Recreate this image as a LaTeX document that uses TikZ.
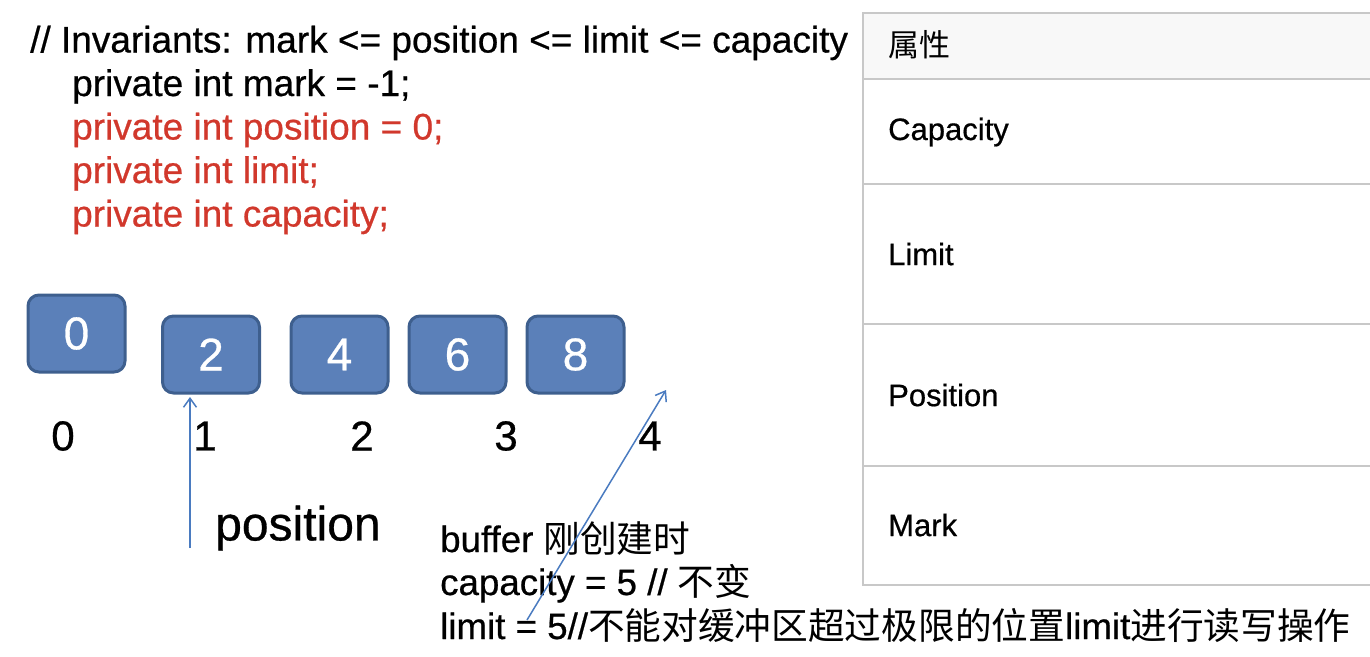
\documentclass[tikz,border=0pt]{standalone}
\usepackage{fontspec}
\setmainfont{Liberation Sans}[RawFeature={embolden=0.6}]
\newfontfamily\cjk{Noto Sans CJK SC}
\usetikzlibrary{arrows.meta}
\definecolor{boxfill}{RGB}{91,128,185}
\definecolor{boxedge}{RGB}{62,95,142}
\definecolor{codered}{RGB}{209,56,44}
\definecolor{arrowblue}{RGB}{74,123,192}
\definecolor{tablegray}{RGB}{200,200,200}
\definecolor{headfill}{RGB}{248,248,248}
\tikzset{
  codeline/.style={anchor=base west, inner sep=0pt, font=\fontsize{37}{43}\selectfont},
  redline/.style={codeline, text=codered},
  valbox/.style={draw=boxedge, fill=boxfill, line width=3pt, rounded corners=11pt,
    minimum width=97pt, minimum height=77pt, inner sep=0pt, text=white,
    font=\fontsize{46}{46}\selectfont},
  idx/.style={inner sep=0pt, font=\fontsize{42}{42}\selectfont},
  pointer/.style={draw=arrowblue, line width=1.5pt, -{Straight Barb[length=9pt,width=13pt]}},
  note/.style={anchor=base west, inner sep=0pt, font=\fontsize{36.7}{43}\selectfont},
  cell/.style={draw=tablegray, line width=2pt, anchor=north west, minimum width=512pt, inner sep=0pt},
  celltext/.style={anchor=west, inner sep=0pt, font=\fontsize{31}{31}\selectfont}
}
\begin{document}
\begin{tikzpicture}[x=1pt,y=-1pt]
\useasboundingbox (0,0) rectangle (1370,656);
% code
\node[codeline] (c0) at (30,52.5) {// Invariants: mark <= position <= limit <= capacity};
\node[codeline] (c1) at (72,96) {private int mark = -1;};
\node[redline] (c2) at (72,139.5) {private int position = 0;};
\node[redline] (c3) at (72,183) {private int limit;};
\node[redline] (c4) at (72,226.5) {private int capacity;};
% boxes
\node[valbox] (b0) at (76.5,333.5) {0};
\node[valbox] (b1) at (211,354.5) {2};
\node[valbox] (b2) at (339.5,354.5) {4};
\node[valbox] (b3) at (457.5,354.5) {6};
\node[valbox] (b4) at (575.5,354.5) {8};
% indices
\node[idx] (i0) at (63,436) {0};
\node[idx] (i1) at (205,436) {1};
\node[idx] (i2) at (362,436) {2};
\node[idx] (i3) at (506,436) {3};
\node[idx] (i4) at (650,436) {4};
% position label
\node[anchor=west, inner sep=0pt, font=\fontsize{48}{48}\selectfont] (plabel) at (215,528) {position};
% notes
\node[note] (n1) at (440,552) {buffer {\cjk 刚创建时}};
\node[note] (n2) at (440,595) {capacity = 5 // {\cjk 不变}};
\node[note] (n3) at (440,639) {limit = 5//{\cjk 不能对缓冲区超过极限的位置}limit{\cjk 进行读写操作}};
% arrows
\coordinate (a1s) at (190,548);
\coordinate (a1e) at (190,397);
\coordinate (a2s) at (527,620);
\coordinate (a2e) at (666,390);
\draw[pointer] (a1s) -- (a1e);
\draw[pointer] (a2s) -- (a2e);
% table
\node[cell, fill=headfill, minimum height=66pt] (t0) at (862,12) {};
\node[cell, minimum height=105pt] (t1) at (862,78) {};
\node[cell, minimum height=140pt] (t2) at (862,183) {};
\node[cell, minimum height=142pt] (t3) at (862,323) {};
\node[cell, minimum height=119pt] (t4) at (862,465) {};
\node[celltext] (h0) at (888,45) {\cjk 属性};
\node[celltext] (h1) at (888,132) {Capacity};
\node[celltext] (h2) at (888,254) {Limit};
\node[celltext] (h3) at (888,395) {Position};
\node[celltext] (h4) at (888,525) {Mark};
\end{tikzpicture}
\end{document}
